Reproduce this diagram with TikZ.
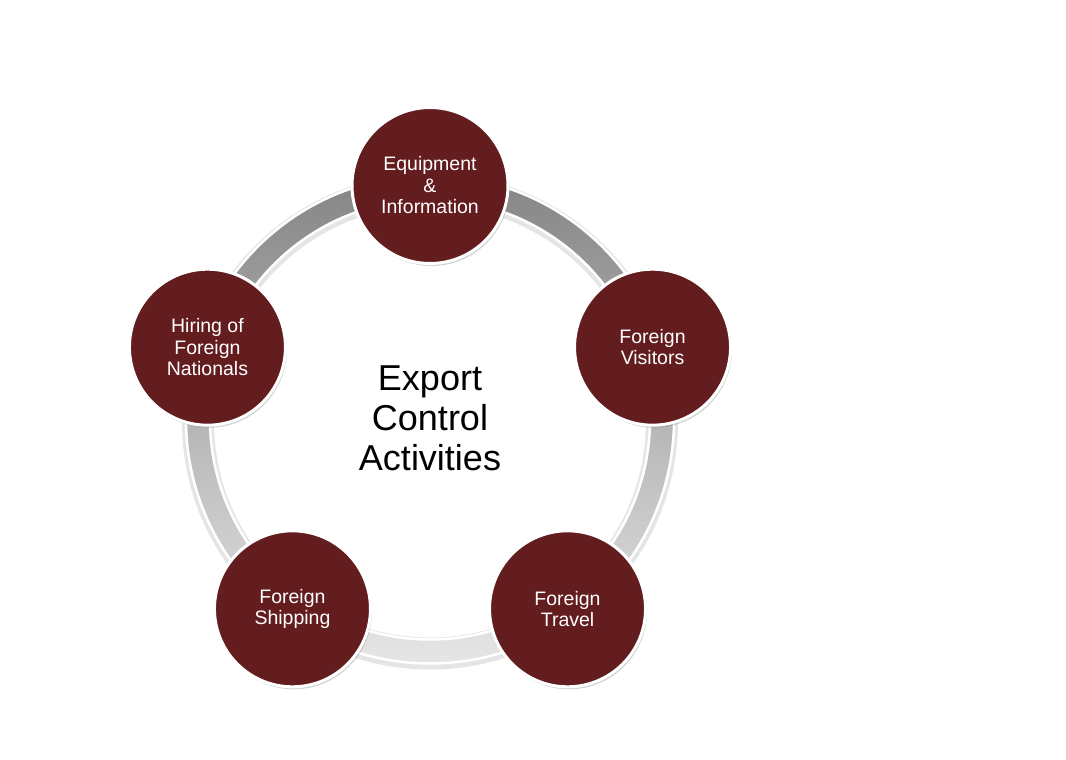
\documentclass[tikz,border=0pt]{standalone}
\usepackage{fontspec}
\newfontfamily\labelfont{Liberation Sans}
\usetikzlibrary{shadows}
\definecolor{wine}{HTML}{631D1F}
\definecolor{ringdark}{HTML}{858585}
\definecolor{ringlight}{HTML}{E6E6E6}
\tikzset{
  activity/.style={circle, minimum size=156pt, inner sep=0pt, fill=wine,
    draw=white, line width=3pt, text=white, align=center,
    font=\labelfont\fontsize{19.5}{21.5}\selectfont,
    drop shadow={opacity=0.35, shadow xshift=1.5pt, shadow yshift=-2.5pt}},
  hub/.style={align=center, font=\labelfont\fontsize{36}{40}\selectfont}
}

\begin{document}
\begin{tikzpicture}[x=1pt, y=1pt]
\useasboundingbox (-430,-340.5) rectangle (636,419.5);

% Ring
\fill[gray!20, even odd rule] (0,-2) circle (248) (0,-2) circle (216);
\shade[top color=ringdark, bottom color=ringlight, even odd rule]
  (0,0) circle (244) (0,0) circle (220);
\draw[white, line width=2.5pt] (0,0) circle (244);
\draw[white, line width=2.5pt] (0,0) circle (220);

% Define nodes
\node[hub] (ctr) at (0,1) {Export\\Control\\Activities};
\node[activity] (equip)  at (90:234)  {Equipment\\\&\\Information};
\node[activity] (visit)  at (18:234)  {Foreign\\Visitors};
\node[activity] (travel) at (-54:234) {Foreign\\Travel};
\node[activity] (ship)   at (234:234) {Foreign\\Shipping};
\node[activity] (hire)   at (162:234) {Hiring of\\Foreign\\Nationals};

\end{tikzpicture}
\end{document}
